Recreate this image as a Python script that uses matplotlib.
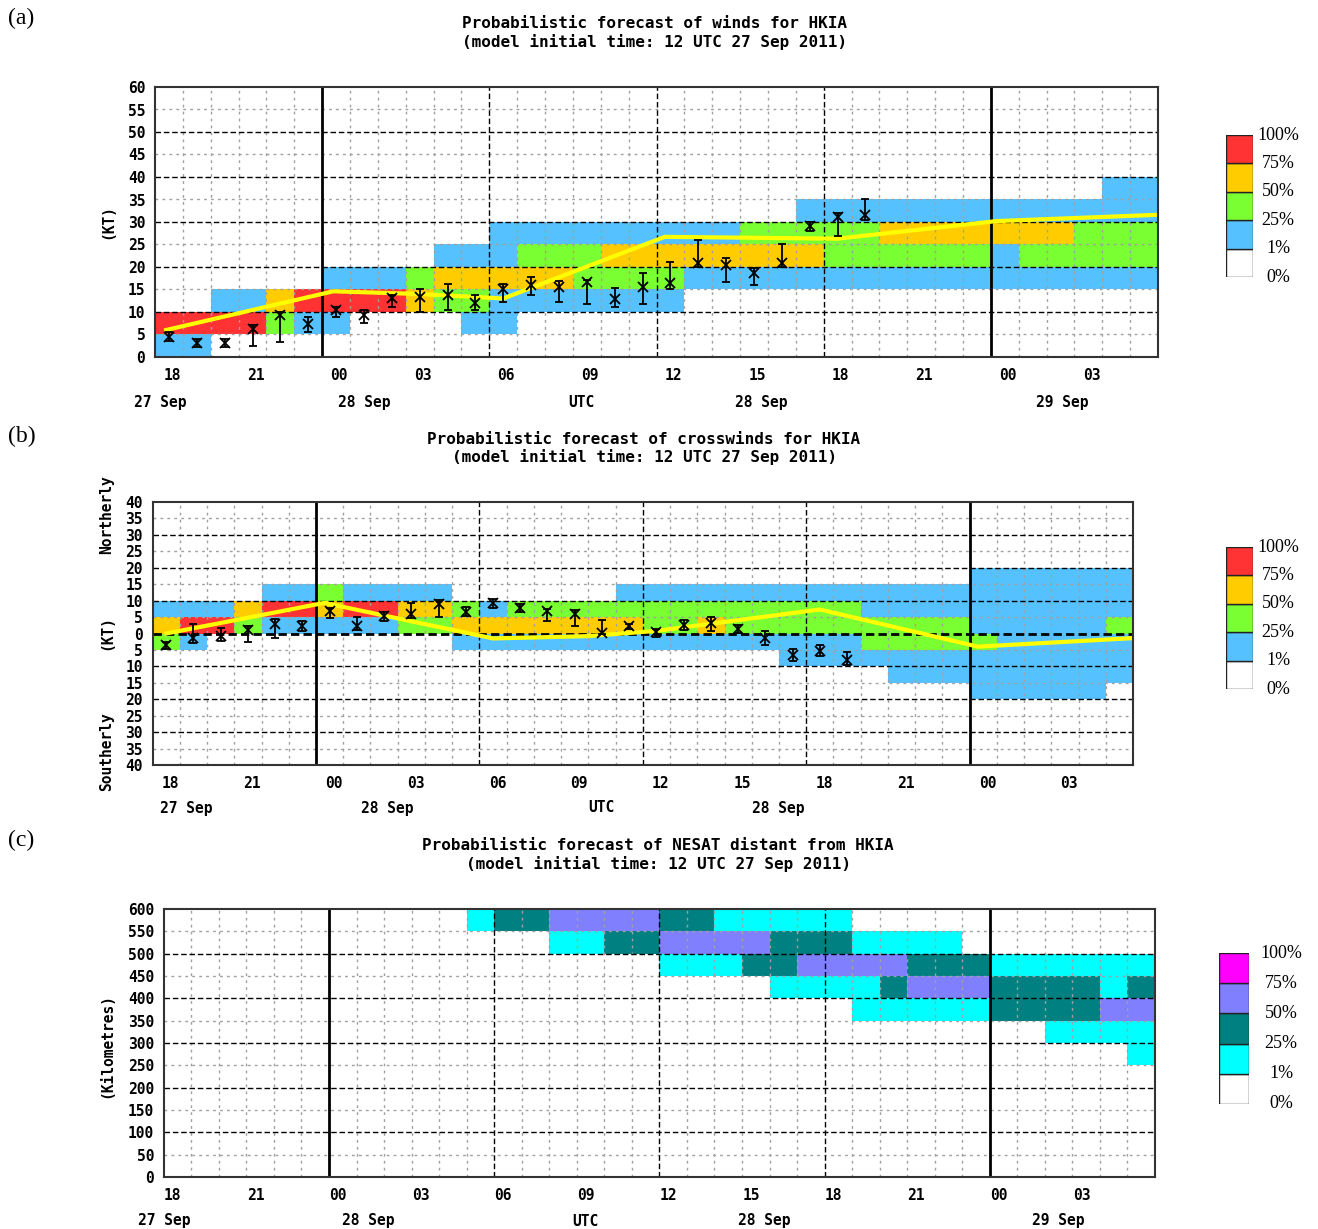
import numpy as np
import matplotlib.pyplot as plt
from matplotlib.colors import ListedColormap
from matplotlib.patches import Rectangle
from matplotlib.transforms import ScaledTranslation

plt.rcParams['font.family'] = 'DejaVu Sans Mono'
plt.rcParams['font.weight'] = 'bold'
plt.rcParams['font.size'] = 10.5

# time axis: hours after 18 UTC 27 Sep 2011, one forecast column per hour
hours = np.arange(37)
hour_ticks = np.arange(0, 36, 3)
hour_labels = ['18', '21', '00', '03', '06', '09', '12', '15', '18', '21', '00', '03']

# probability class per 5 kt / 50 km bin (0: 0%, 1: 1-25%, 2: 25-50%, 3: 50-75%, 4: 75-100%)
# rows written top-down, 36 hourly columns in groups of six
wind_bins = np.arange(0, 65, 5)
wind_prob = [
    "000000 000000 000000 000000 000000 000000",  # 55-60
    "000000 000000 000000 000000 000000 000000",
    "000000 000000 000000 000000 000000 000000",
    "000000 000000 000000 000000 000000 000000",  # 40-45
    "000000 000000 000000 000000 000000 000011",
    "000000 000000 000000 000001 111111 111111",
    "000000 000000 111111 111222 223333 333222",
    "000000 000011 122233 333333 222222 122222",  # 20-25
    "000000 111233 333222 211111 111111 111111",
    "001134 444322 111111 100000 000000 000000",
    "444421 100001 100000 000000 000000 000000",
    "110000 000000 000000 000000 000000 000000",  # 0-5
]
wind_line_t = [0.4, 6.4, 9.5, 12.5, 18.3, 24.5, 30.2, 36]
wind_line_v = [6, 14.6, 14, 13, 26.7, 26.3, 30.2, 31.6]
wind_obs = [4.5, 3.1, 3.1, 6.3, 9.4, 7.4, 10.4, 9.3, 13.0, 13.4, 13.7, 12.0, 15.2,
            16.0, 15.6, 16.7, 12.8, 15.6, 16.4, 20.8, 20.4, 18.7, 20.8, 29.0, 31.2, 31.6]
wind_lo = [3.5, 2.2, 2.2, 2.4, 3.3, 5.6, 8.9, 7.6, 11.1, 10.0, 10.5, 10.5, 12.2,
           13.7, 12.2, 11.7, 11.0, 11.7, 15.0, 20.0, 16.7, 16.0, 20.1, 28.1, 26.8, 30.5]
wind_hi = [5.6, 4.1, 4.1, 7.0, 10.0, 8.8, 11.1, 10.5, 13.7, 15.0, 16.3, 13.7, 16.2,
           17.8, 16.9, 17.1, 15.4, 18.7, 21.0, 25.9, 21.9, 19.7, 25.1, 29.9, 32.0, 35.0]

cross_bins = np.arange(-40, 45, 5)
cross_prob = [
    "000000 000000 000000 000000 000000 000000",  # 35-40 N
    "000000 000000 000000 000000 000000 000000",
    "000000 000000 000000 000000 000000 000000",
    "000000 000000 000000 000000 000000 000000",
    "000000 000000 000000 000000 000000 111111",  # 15-20
    "000011 211110 000001 111111 111111 111111",
    "111344 344332 122222 222222 221111 111111",
    "344211 111223 333333 223222 222222 111112",  # 0-5
    "210000 000001 111111 111111 112222 211111",  # 0-5 S
    "000000 000000 000000 000001 111111 111111",
    "000000 000000 000000 000000 000111 111111",
    "000000 000000 000000 000000 000000 111110",
    "000000 000000 000000 000000 000000 000000",
    "000000 000000 000000 000000 000000 000000",
    "000000 000000 000000 000000 000000 000000",
    "000000 000000 000000 000000 000000 000000",  # 35-40 S
]
cross_line_t = [0.5, 6.3, 12.5, 16, 18.5, 24.5, 30.3, 36]
cross_line_v = [0, 9.3, -1.5, -0.8, 0.8, 7.3, -4, -1.4]
cross_obs = [-3.6, -1.3, -0.8, 1.2, 2.8, 2.2, 6.8, 2.2, 5.3, 6.0, 8.9, 6.6, 9.4,
             7.9, 6.8, 5.8, 0.2, 2.2, 0.5, 2.7, 3.3, 1.4, -1.3, -6.4, -5.4, -8.0]
cross_lo = [-4.6, -2.9, -2.3, -2.6, -1.3, 0.7, 4.6, 1.2, 3.8, 4.8, 5.0, 5.3, 7.7,
            6.6, 3.8, 2.2, -0.3, 1.5, -1.1, 1.2, 0.9, 0.2, -3.6, -8.5, -6.9, -9.5]
cross_hi = [-2.5, 2.8, 1.7, 2.2, 4.3, 3.8, 7.9, 5.0, 6.6, 9.4, 10.1, 8.0, 10.4,
            9.1, 7.6, 7.1, 4.0, 3.0, 1.5, 4.0, 5.0, 2.7, 0.7, -4.6, -3.6, -5.6]

dist_bins = np.arange(0, 650, 50)
dist_prob = [
    "000000 000001 223333 221111 100000 000000",  # 550-600
    "000000 000000 001122 333322 211110 000000",
    "000000 000000 000000 111223 333222 111111",
    "000000 000000 000000 000011 112333 222212",  # 400-450
    "000000 000000 000000 000000 011111 222233",
    "000000 000000 000000 000000 000000 001111",
    "000000 000000 000000 000000 000000 000001",
    "000000 000000 000000 000000 000000 000000",
    "000000 000000 000000 000000 000000 000000",
    "000000 000000 000000 000000 000000 000000",
    "000000 000000 000000 000000 000000 000000",
    "000000 000000 000000 000000 000000 000000",  # 0-50
]

wind_colors = ['white', '#55c2ff', '#7aff33', '#ffcc00', '#ff3333']
dist_colors = ['white', '#00ffff', '#008080', '#8080ff', '#ff00ff']
legend_labels = ['100%', '75%', '50%', '25%', '1%', '0%']

W, H = 1318, 1229
fig = plt.figure(figsize=(W / 100, H / 100), dpi=100)


def px_axes(l, t, r, b):
    return fig.add_axes([l / W, 1 - b / H, (r - l) / W, (b - t) / H])


def to_grid(rows):
    return np.array([[int(c) for c in r.replace(' ', '')] for r in rows[::-1]])


def panel(ax, rows, bins, colors, major, label_dx, zero_line=False):
    ax.pcolormesh(hours, bins, to_grid(rows), cmap=ListedColormap(colors),
                  vmin=-0.5, vmax=len(colors) - 0.5, shading='flat',
                  antialiased=False, linewidth=0, zorder=0)
    for h in range(1, 36):
        if h in (6, 30):
            ax.axvline(h, color='black', lw=2, zorder=2)
        elif h % 6 == 0:
            ax.axvline(h, color='black', lw=1, ls=(0, (4, 2)), zorder=2)
        else:
            ax.axvline(h, color='#a0a0a0', lw=1, ls=(0, (2, 3)), zorder=1)
    for v in bins[1:-1]:
        if zero_line and v == 0:
            ax.axhline(v, color='black', lw=2, ls=(0, (3, 1.5)), zorder=2)
        elif v % major == 0:
            ax.axhline(v, color='black', lw=1, ls=(0, (4, 2)), zorder=2)
        else:
            ax.axhline(v, color='#a0a0a0', lw=1, ls=(0, (2, 3)), zorder=1)
    ax.set_xlim(0, 36)
    ax.set_ylim(bins[0], bins[-1])
    ax.set_yticks(bins)
    ax.set_yticklabels([str(abs(v)) for v in bins])
    ax.set_xticks(hour_ticks)
    ax.set_xticklabels(hour_labels)
    ax.tick_params(length=0)
    ax.tick_params(axis='x', pad=8)
    ax.tick_params(axis='y', pad=7)
    for lab in ax.get_xticklabels():
        lab.set_transform(lab.get_transform() + ScaledTranslation(label_dx / 100, 0, fig.dpi_scale_trans))
    for s in ax.spines.values():
        s.set_color('#333333')
        s.set_linewidth(1.5)
        s.set_zorder(5)


def dates(ax, items, dy):
    tr = ax.get_xaxis_transform() + ScaledTranslation(0, -dy / 100, fig.dpi_scale_trans)
    for x, s in items:
        ax.text(x, 0, s, transform=tr, ha='center', va='center')


def obs(ax, t, v, lo, hi):
    v, lo, hi = map(np.array, (v, lo, hi))
    ax.errorbar(t, v, yerr=[v - lo, hi - v], fmt='none', ecolor='black',
                elinewidth=1.3, capsize=3, capthick=1.3, zorder=4)
    ax.plot(t, v, 'x', color='black', ms=7, mew=1.3, zorder=4)


def legend(l, t, r, b, colors, lab_x):
    lax = px_axes(l, t, r, b)
    lax.set_xlim(0, 1)
    lax.set_ylim(0, 5)
    lax.axis('off')
    for i, c in enumerate(colors):
        lax.add_patch(Rectangle((0, i), 1, 1, facecolor=c, edgecolor='#222222', lw=1))
    for i, s in enumerate(legend_labels):
        lax.text((lab_x - l) / (r - l), 5 - i, s, ha='center', va='center',
                 family='Liberation Serif', weight='normal', fontsize=13, clip_on=False)


def title(x, y, lines):
    fig.text(x / W, 1 - y / H, lines[0], ha='center', va='center', fontsize=11.5)
    fig.text(x / W, 1 - (y + 18) / H, lines[1], ha='center', va='center', fontsize=11.5)


init = '(model initial time: 12 UTC 27 Sep 2011)'
obs_t = np.arange(len(wind_obs)) + 0.5

# (a) winds
ax = px_axes(155, 87, 1158, 357)
panel(ax, wind_prob, wind_bins, wind_colors, 10, 17)
ax.plot(wind_line_t, wind_line_v, color='#ffff00', lw=3, zorder=3)
obs(ax, obs_t, wind_obs, wind_lo, wind_hi)
dates(ax, [(0.18, '27 Sep'), (7.5, '28 Sep'), (15.3, 'UTC'), (21.76, '28 Sep'), (32.56, '29 Sep')], 46)
title(655, 24, ['Probabilistic forecast of winds for HKIA', init])
fig.text(108 / W, 1 - 222 / H, '(KT)', rotation=90, ha='center', va='center')
legend(1226, 135, 1253, 277, wind_colors, 1278)

# (b) crosswinds
ax = px_axes(152.6, 502, 1133, 765)
panel(ax, cross_prob, cross_bins, wind_colors, 10, 18, zero_line=True)
ax.plot(cross_line_t, cross_line_v, color='#ffff00', lw=3, zorder=3)
obs(ax, obs_t, cross_obs, cross_lo, cross_hi)
dates(ax, [(1.23, '27 Sep'), (8.6, '28 Sep'), (16.47, 'UTC'), (22.96, '28 Sep')], 43)
title(644, 439, ['Probabilistic forecast of crosswinds for HKIA', init])
fig.text(107 / W, 1 - 515 / H, 'Northerly', rotation=90, ha='center', va='center')
fig.text(107 / W, 1 - 632 / H, '(KT)', rotation=90, ha='center', va='center')
fig.text(107 / W, 1 - 752 / H, 'Southerly', rotation=90, ha='center', va='center')
legend(1226, 547, 1253, 689, wind_colors, 1278)

# (c) distance of NESAT
ax = px_axes(163.8, 909, 1155, 1177)
panel(ax, dist_prob, dist_bins, dist_colors, 100, 9)
dates(ax, [(0.0, '27 Sep'), (7.41, '28 Sep'), (15.3, 'UTC'), (21.8, '28 Sep'), (32.5, '29 Sep')], 44)
title(658, 846, ['Probabilistic forecast of NESAT distant from HKIA', init])
fig.text(107 / W, 1 - 1045 / H, '(Kilometres)', rotation=90, ha='center', va='center')
legend(1219, 953, 1249, 1104, dist_colors, 1281)

for s, y in [('(a)', 18), ('(b)', 436), ('(c)', 840)]:
    fig.text(8 / W, 1 - y / H, s, ha='left', va='center', family='Liberation Serif',
             weight='normal', fontsize=17)

fig.savefig('out.png', dpi=100)
